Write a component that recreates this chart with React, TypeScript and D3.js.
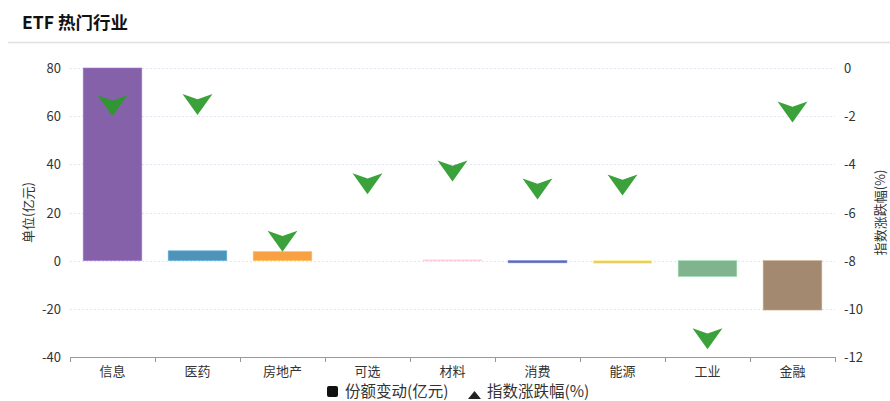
import React from 'react';
import * as d3 from 'd3';

const categories = ['信息', '医药', '房地产', '可选', '材料', '消费', '能源', '工业', '金融'];
const shareChange = [80, 4.1, 3.8, 0, 0.3, -0.9, -1.1, -6.6, -20.5];
const indexChange = [-1.57, -1.52, -7.19, -4.81, -4.28, -5.02, -4.86, -11.24, -1.83];
const barColors = ['#8561aa', '#4f93b8', '#f7a144', '#7fb8a8', '#eaa9b8', '#5d6aaa', '#eacb6c', '#80b48f', '#a3896f'];
const leftTicks = [80, 60, 40, 20, 0, -20, -40];
const rightTicks = [0, -2, -4, -6, -8, -10, -12];

const W = 890;
const H = 401;
const FONT = '"Noto Sans CJK SC", "Noto Sans", sans-serif';

const App: React.FC = () => {
  const x = d3.scaleBand<string>().domain(categories).range([70, 835]).paddingInner(0.31).paddingOuter(0.155);
  const band = d3.scaleBand<string>().domain(categories).range([70, 835]);
  const yL = d3.scaleLinear().domain([-40, 80]).range([357, 68]);
  const yR = d3.scaleLinear().domain([-12, 0]).range([357, 68]);

  const mw = 30;
  const mh = 21;
  const marker = `M${-mw / 2},${-mh / 2} L0,${-mh / 4} L${mw / 2},${-mh / 2} L0,${mh / 2} Z`;

  return (
    <svg width={W} height={H} style={{ position: 'absolute', left: 0, top: 0, fontFamily: FONT }}>
      <rect width={W} height={H} fill="#fff" />
      {/* title */}
      <text x={22} y={29} fontSize={17.5} fontWeight="bold" fill="#111">ETF 热门行业</text>
      <line x1={8} x2={890} y1={42.5} y2={42.5} stroke="#e0e0e0" strokeWidth={1.5} />

      {/* grid */}
      {leftTicks.filter(t => t !== -40).map(t => (
        <line key={t} x1={70} x2={835} y1={Math.round(yL(t)) + 0.5} y2={Math.round(yL(t)) + 0.5}
          stroke="#e4e4f2" strokeDasharray="2,2" />
      ))}

      {/* bars */}
      {categories.map((c, i) => {
        const v = shareChange[i];
        if (v === 0) return null;
        const y0 = yL(Math.max(0, v));
        const h = Math.max(Math.abs(yL(v) - yL(0)), 0.8);
        return (
          <rect key={c} x={x(c)} y={y0} width={x.bandwidth()} height={h}
            fill={barColors[i]} stroke={d3.color(barColors[i])!.brighter(0.6).toString()} strokeWidth={0.6} />
        );
      })}

      {/* x axis */}
      <line x1={70} x2={835} y1={357.5} y2={357.5} stroke="#999" />
      {categories.map(c => (
        <line key={c} x1={Math.round(band(c)!) + 0.5} x2={Math.round(band(c)!) + 0.5} y1={357} y2={362} stroke="#999" />
      ))}
      <line x1={835.5} x2={835.5} y1={357} y2={362} stroke="#999" />
      {categories.map(c => (
        <text key={c} x={band(c)! + band.bandwidth() / 2} y={376} textAnchor="middle" fontSize={13} fill="#333">{c}</text>
      ))}

      {/* left axis labels */}
      {leftTicks.map(t => (
        <text key={t} x={61} y={yL(t) + 5} textAnchor="end" fontSize={13} fill="#333">{t}</text>
      ))}
      <text transform={`translate(33,${yL(20)}) rotate(-90)`} textAnchor="middle" fontSize={13} fill="#333">单位(亿元)</text>

      {/* right axis labels */}
      {rightTicks.map(t => (
        <text key={t} x={844} y={yR(t) + 5} textAnchor="start" fontSize={13} fill="#333">{t}</text>
      ))}
      <text transform={`translate(885,${yR(-6)}) rotate(-90)`} textAnchor="middle" fontSize={13} fill="#333">指数涨跌幅(%)</text>

      {/* markers */}
      {categories.map((c, i) => (
        <path key={c} d={marker}
          transform={`translate(${band(c)! + band.bandwidth() / 2},${yR(indexChange[i])})`}
          fill="#2a9a2a" fillOpacity={0.92} />
      ))}

      {/* legend */}
      <rect x={327} y={386} width={11} height={11} rx={2} fill="#111" />
      <text x={345} y={397} fontSize={15.5} fill="#333">份额变动(亿元)</text>
      <path d="M468,399 L474.5,391 L481,399 Z" fill="#222" />
      <text x={487} y={397} fontSize={15.5} fill="#333">指数涨跌幅(%)</text>
    </svg>
  );
};

export default App;
